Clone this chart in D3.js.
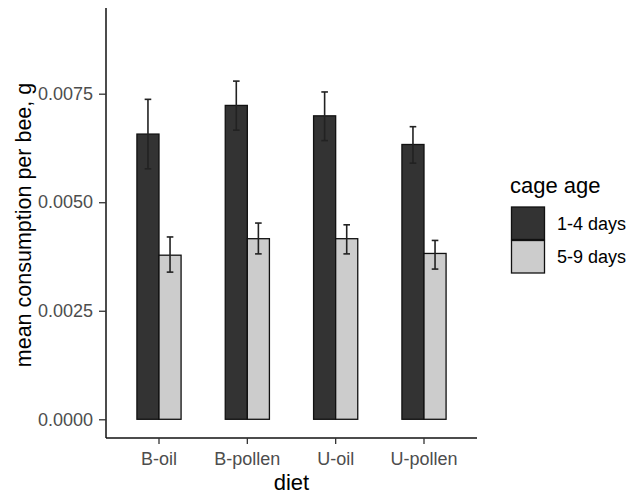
<!DOCTYPE html>
<html>
<head>
<meta charset="utf-8">
<script src="https://cdn.jsdelivr.net/npm/d3@7"></script>
<style>
  html, body { margin: 0; padding: 0; background: #fff; }
  svg { display: block; font-family: "Liberation Sans", Arial, sans-serif; }
</style>
</head>
<body>
<svg id="chart" width="631" height="497"></svg>
<script>
// ---- data ----
const diets = ["B-oil", "B-pollen", "U-oil", "U-pollen"];
const groups = ["1-4 days", "5-9 days"];
const meanYoung = [0.00657, 0.00723, 0.00699, 0.00633];
const loYoung   = [0.00577, 0.00666, 0.00642, 0.00590];
const hiYoung   = [0.00737, 0.00779, 0.00754, 0.00674];
const meanOld   = [0.00378, 0.00416, 0.00416, 0.00382];
const loOld     = [0.00339, 0.00381, 0.00381, 0.00346];
const hiOld     = [0.00420, 0.00452, 0.00448, 0.00412];
const yTicks = [0, 0.0025, 0.0050, 0.0075];
const colors = ["#333333", "#cccccc"];

const rows = [];
diets.forEach((d, i) => {
  rows.push({diet: d, group: groups[0], mean: meanYoung[i], lo: loYoung[i], hi: hiYoung[i]});
  rows.push({diet: d, group: groups[1], mean: meanOld[i], lo: loOld[i], hi: hiOld[i]});
});

// ---- layout ----
const svg = d3.select("#chart");
const pL = 106, pR = 477, pT = 8, pB = 438;

const y = d3.scaleLinear().domain([-0.000431, 0.009474]).range([pB, pT]);
const x = d3.scaleBand().domain(diets).range([pL, pR]).paddingInner(0.5).paddingOuter(0.35);
const xs = d3.scaleBand().domain(groups).range([0, x.bandwidth()]).padding(0);
const color = d3.scaleOrdinal().domain(groups).range(colors);

// bars
svg.append("g").selectAll("rect").data(rows).join("rect")
  .attr("x", d => x(d.diet) + xs(d.group))
  .attr("y", d => y(d.mean))
  .attr("width", xs.bandwidth())
  .attr("height", d => y(0) - y(d.mean))
  .attr("fill", d => color(d.group))
  .attr("stroke", "#111")
  .attr("stroke-width", 1.3);

// error bars
const capW = xs.bandwidth() * 0.3;
const eb = svg.append("g").attr("stroke", "#222").attr("stroke-width", 1.6).attr("fill", "none");
rows.forEach(d => {
  const cx = x(d.diet) + xs(d.group) + xs.bandwidth() / 2;
  eb.append("line").attr("x1", cx).attr("x2", cx).attr("y1", y(d.lo)).attr("y2", y(d.hi));
  eb.append("line").attr("x1", cx - capW / 2).attr("x2", cx + capW / 2).attr("y1", y(d.lo)).attr("y2", y(d.lo));
  eb.append("line").attr("x1", cx - capW / 2).attr("x2", cx + capW / 2).attr("y1", y(d.hi)).attr("y2", y(d.hi));
});

// axes
const yAxis = svg.append("g").attr("transform", `translate(${pL},0)`)
  .call(d3.axisLeft(y).tickValues(yTicks).tickFormat(d3.format(".4f")).tickSize(7).tickSizeOuter(0).tickPadding(6));
const xAxis = svg.append("g").attr("transform", `translate(0,${pB})`)
  .call(d3.axisBottom(x).tickSize(6).tickSizeOuter(0).tickPadding(8));

[yAxis, xAxis].forEach(a => {
  a.select(".domain").attr("stroke", "#111").attr("stroke-width", 1.5);
  a.selectAll(".tick line").attr("stroke", "#333").attr("stroke-width", 1.3);
  a.selectAll(".tick text").attr("fill", "#4d4d4d").style("font-size", "18px")
    .style("font-family", "'Liberation Sans', Arial, sans-serif");
});
yAxis.select(".domain").attr("d", `M0,${pB}V${pT}`);
xAxis.select(".domain").attr("d", `M${pL},0H${pR}`);

// axis titles
svg.append("text")
  .attr("x", (pL + pR) / 2).attr("y", 490)
  .attr("text-anchor", "middle").attr("fill", "#000")
  .style("font-size", "22px").text("diet");

svg.append("text")
  .attr("transform", `translate(31,${(pT + pB) / 2 + 2}) rotate(-90)`)
  .attr("text-anchor", "middle").attr("fill", "#000")
  .style("font-size", "21.5px").text("mean consumption per bee, g");

// legend
const lg = svg.append("g");
lg.append("text").attr("x", 510).attr("y", 193).attr("fill", "#000")
  .style("font-size", "22px").text("cage age");
groups.forEach((g, i) => {
  const ky = 207 + i * 33.5;
  lg.append("rect").attr("x", 511.5).attr("y", ky).attr("width", 33).attr("height", 32.5)
    .attr("fill", color(g)).attr("stroke", "#111").attr("stroke-width", 1.3);
  lg.append("text").attr("x", 557).attr("y", ky + 16.5).attr("dy", "0.35em").attr("fill", "#000")
    .style("font-size", "18px").text(g);
});
</script>
</body>
</html>
